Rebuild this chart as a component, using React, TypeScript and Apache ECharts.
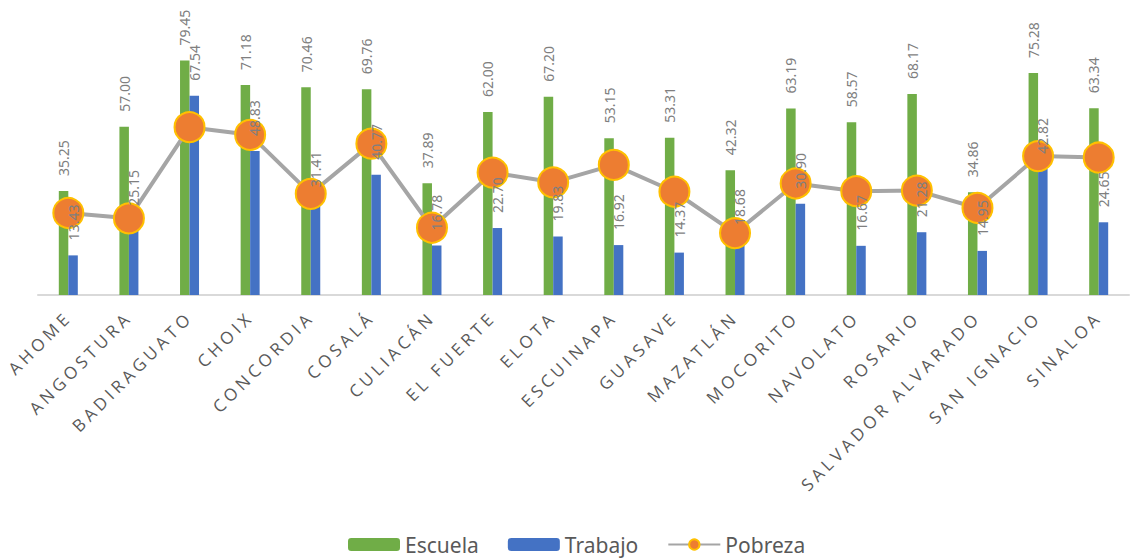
import React, { useEffect, useRef } from "react";
import * as echarts from "echarts";

// Municipalities of Sinaloa
const categories = [
  "AHOME", "ANGOSTURA", "BADIRAGUATO", "CHOIX", "CONCORDIA", "COSALÁ",
  "CULIACÁN", "EL FUERTE", "ELOTA", "ESCUINAPA", "GUASAVE", "MAZATLÁN",
  "MOCORITO", "NAVOLATO", "ROSARIO", "SALVADOR ALVARADO", "SAN IGNACIO", "SINALOA",
];

const escuela = [
  35.25, 57.0, 79.45, 71.18, 70.46, 69.76, 37.89, 62.0, 67.2, 53.15, 53.31, 42.32,
  63.19, 58.57, 68.17, 34.86, 75.28, 63.34,
];

const trabajo = [
  13.43, 25.15, 67.54, 48.83, 31.41, 40.77, 16.78, 22.7, 19.83, 16.92, 14.37, 18.68,
  30.9, 16.67, 21.28, 14.95, 42.82, 24.65,
];

const pobreza = [
  27.8, 26.0, 56.9, 54.3, 34.3, 51.3, 22.8, 41.5, 38.2, 44.1, 35.0, 21.0,
  37.8, 35.2, 35.4, 29.5, 47.1, 46.6,
];

const seriesNames = ["Escuela", "Trabajo", "Pobreza"];

const GREEN = "#70AD47";
const BLUE = "#4472C4";
const ORANGE = "#ED7D31";
const GOLD = "#FFC000";
const LINE_GREY = "#A5A5A5";
const LABEL_GREY = "#7F7F7F";
const TEXT_GREY = "#595959";

const valueLabel = {
  show: true,
  position: "top" as const,
  rotate: 90,
  align: "left" as const,
  verticalAlign: "middle" as const,
  distance: 15,
  color: LABEL_GREY,
  fontSize: 14,
  fontFamily: "Noto Sans",
};

export default function App() {
  const ref = useRef<HTMLDivElement>(null);

  useEffect(() => {
    if (!ref.current) return;
    const chart = echarts.init(ref.current, undefined, { renderer: "svg" });
    chart.setOption({
      animation: false,
      backgroundColor: "#ffffff",
      grid: { left: 38, right: 1, top: -4, bottom: 263, containLabel: false },
      legend: {
        data: seriesNames,
        left: 348,
        top: 534,
        padding: 0,
        itemWidth: 52,
        itemHeight: 13,
        itemGap: 29,
        textStyle: { color: TEXT_GREY, fontSize: 21, fontFamily: "Noto Sans" },
      },
      xAxis: {
        type: "category",
        data: categories,
        axisLine: { lineStyle: { color: "#D9D9D9", width: 2 } },
        axisTick: { show: false },
        axisLabel: {
          interval: 0,
          rotate: 45,
          margin: 19,
          color: TEXT_GREY,
          fontSize: 17,
          fontFamily: "Open Sans",
        },
      },
      yAxis: {
        type: "value",
        min: 0,
        max: 100,
        show: false,
        splitLine: { show: false },
      },
      series: [
        {
          name: "Escuela",
          type: "bar",
          data: escuela,
          barWidth: 9.5,
          barGap: "0%",
          z: 2,
          itemStyle: { color: GREEN },
          label: { ...valueLabel, formatter: (p: any) => escuela[p.dataIndex].toFixed(2) },
        },
        {
          name: "Trabajo",
          type: "bar",
          data: trabajo,
          stack: "trabajo",
          barWidth: 9.5,
          barGap: "0%",
          z: 2,
          itemStyle: { color: BLUE },
        },
        {
          // zero-height cap on the Trabajo stack, so its value labels sit above the line
          name: "TrabajoValor",
          type: "bar",
          data: trabajo.map(() => 0),
          stack: "trabajo",
          barWidth: 9.5,
          barGap: "0%",
          z: 5,
          silent: true,
          itemStyle: { color: "rgba(0,0,0,0)" },
          label: { ...valueLabel, formatter: (p: any) => trabajo[p.dataIndex].toFixed(2) },
        },
        {
          name: "Pobreza",
          type: "line",
          data: pobreza,
          z: 3,
          symbol: "circle",
          symbolSize: 30,
          lineStyle: { color: LINE_GREY, width: 4 },
          itemStyle: { color: ORANGE, borderColor: GOLD, borderWidth: 2 },
        },
      ],
    });
    return () => chart.dispose();
  }, []);

  return (
    <>
      <style>{`
        text[style*="Open Sans"], text[font-family*="Open Sans"] { letter-spacing: 4px; }
      `}</style>
      <div
        ref={ref}
        style={{ position: "fixed", left: 0, top: 0, width: 1130, height: 558, background: "#fff" }}
      />
    </>
  );
}
